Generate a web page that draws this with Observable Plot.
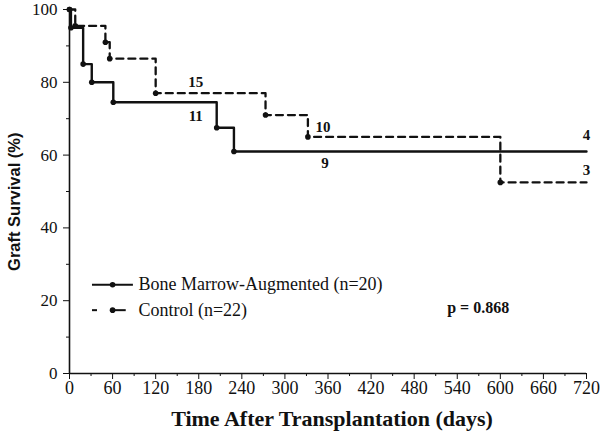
<!DOCTYPE html>
<html>
<head>
<meta charset="utf-8">
<script src="https://cdn.jsdelivr.net/npm/d3@7"></script>
<script src="https://cdn.jsdelivr.net/npm/@observablehq/plot@0.6"></script>
<style>
  html, body { margin: 0; padding: 0; background: #fff; }
  #chart svg { font-family: "Liberation Serif", "Times New Roman", serif; color: #111; }
  #chart svg [aria-label="y-axis tick label"] text { font-size: 17px; }
  #chart svg [aria-label="x-axis tick label"] text { font-size: 18px; }
</style>
</head>
<body>
<div id="chart"></div>
<script>
// ---- data ----
const bmaDays  = [0, 2, 19, 31, 61, 205, 229, 720];
const bmaSurv  = [100, 95, 85, 80, 74.5, 67.5, 61, 61];
const ctrlDays = [0, 8, 50, 56, 120, 273, 332, 600, 720];
const ctrlSurv = [100, 95.5, 91, 86.5, 77, 71, 65, 52.5, 52.5];

const riskDay   = [180, 180, 360, 360, 720, 720];
const riskN     = ["15", "11", "10", "9", "4", "3"];
const riskGroup = ["ctrl", "bma", "ctrl", "bma", "bma", "ctrl"];

const xTicks      = [0, 60, 120, 180, 240, 300, 360, 420, 480, 540, 600, 660, 720];
const xMinorTicks = [30, 90, 150, 210, 270, 330, 390, 450, 510, 570, 630, 690];
const yTicks      = [0, 20, 40, 60, 80, 100];
const yMinorTicks = [10, 30, 50, 70, 90];

const xLabel = "Time After Transplantation (days)";
const yLabel = "Graft Survival (%)";
const legendLabels = ["Bone Marrow-Augmented (n=20)", "Control (n=22)"];
const pValueText = "p = 0.868";

// ---- build tables ----
const bma  = bmaDays.map((d, i) => ({day: d, surv: bmaSurv[i]}));
const ctrl = ctrlDays.map((d, i) => ({day: d, surv: ctrlSurv[i]}));
const bmaDots  = bma.slice(0, -1);
const ctrlDots = ctrl.slice(0, -1);

function stepValue(tab, day) {
  let v = tab[0].surv;
  for (const r of tab) if (r.day <= day) v = r.surv;
  return v;
}
const riskDy = [-11, 14, -10, 12, -16, -12];
const riskDx = [-3, -3, -5, -3, 0, 0];
const risk = riskN.map((n, i) => ({
  n, day: riskDay[i],
  surv: stepValue(riskGroup[i] === "bma" ? bma : ctrl, riskDay[i]),
  dy: riskDy[i], dx: riskDx[i]
}));

const ink = "#111";

const chart = Plot.plot({
  width: 600,
  height: 431,
  marginLeft: 69,
  marginRight: 14,
  marginTop: 9,
  marginBottom: 58,
  x: {domain: [0, 720]},
  y: {domain: [0, 100]},
  marks: [
    // axes
    Plot.axisX({ticks: xTicks, tickSize: 6, tickPadding: 2, tickFormat: d => String(d), label: null,
      stroke: ink, fill: ink}),
    Plot.axisX({ticks: xMinorTicks, tickSize: 3, tickFormat: () => "", label: null, stroke: ink}),
    Plot.axisY({ticks: yTicks, tickSize: 6, tickPadding: 6, tickFormat: d => String(d), label: null,
      stroke: ink, fill: ink}),
    Plot.axisY({ticks: yMinorTicks, tickSize: 3, tickFormat: () => "", label: null, stroke: ink}),
    Plot.ruleY([0], {stroke: ink, strokeWidth: 1.6}),
    Plot.ruleX([0], {y1: 0, y2: 100, stroke: ink, strokeWidth: 1.6}),
    // axis titles
    Plot.text([xLabel], {x: 360, y: 0, text: d => d, dy: 45, dx: 4, fontSize: 22, fontWeight: "bold", fill: ink}),
    Plot.text([yLabel], {x: 0, y: 47.2, text: d => d, dx: -55, rotate: -90, fontSize: 16.5, fontWeight: "bold",
      fontFamily: "'Liberation Sans', Arial, sans-serif", fill: ink}),
    // curves
    Plot.line(bma, {x: "day", y: "surv", curve: "step-after", stroke: ink, strokeWidth: 2.4}),
    Plot.line(ctrl, {x: "day", y: "surv", curve: "step-after", stroke: ink, strokeWidth: 2.3, strokeDasharray: "7,5"}),
    Plot.dot(bmaDots, {x: "day", y: "surv", r: 2.8, fill: ink, stroke: null}),
    Plot.dot(ctrlDots, {x: "day", y: "surv", r: 2.8, fill: ink, stroke: null}),
    // numbers at risk
    Plot.text(risk, {x: "day", y: "surv", text: "n", fill: ink, fontWeight: "bold", fontSize: 15,
      render: (index, scales, values, dims, ctx, next) => {
        const g = next(index, scales, values, dims, ctx);
        d3.select(g).selectAll("text").each(function(_, k) {
          const r = risk[index[k]];
          d3.select(this).attr("dx", r.dx).attr("dy", r.dy);
        });
        return g;
      }}),
    // legend
    Plot.ruleY([24.4], {x1: 32, x2: 89, stroke: ink, strokeWidth: 2}),
    Plot.ruleY([17.4], {x1: 32, x2: 39, stroke: ink, strokeWidth: 2}),
    Plot.ruleY([17.4], {x1: 57, x2: 79, stroke: ink, strokeWidth: 2}),
    Plot.dot([24.4, 17.4], {x: 60, y: d => d, r: 2.8, fill: ink, stroke: null}),
    Plot.text([{t: legendLabels[0], y: 24.4}, {t: legendLabels[1], y: 17.4}],
      {x: 96, y: "y", text: "t", textAnchor: "start", fontSize: 18, fill: ink}),
    // p-value
    Plot.text([pValueText], {x: 526, y: 18.1, text: d => d, textAnchor: "start", fontSize: 16, fontWeight: "bold", fill: ink})
  ]
});
document.getElementById("chart").appendChild(chart);
</script>
</body>
</html>
